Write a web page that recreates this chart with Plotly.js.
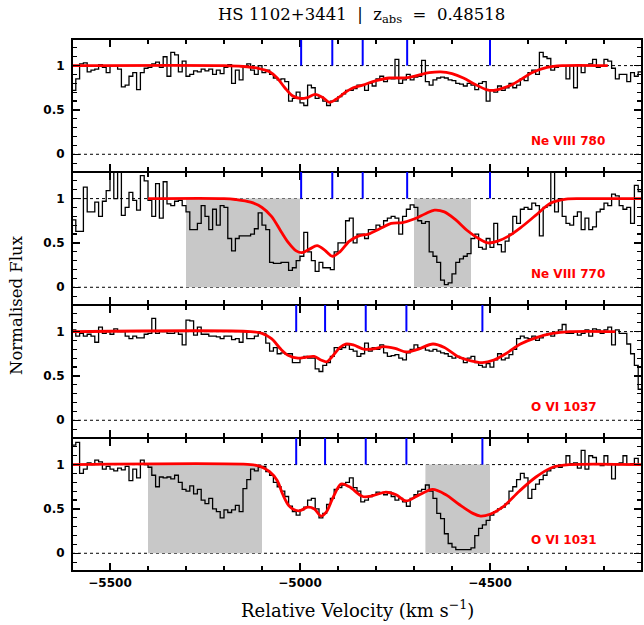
<!DOCTYPE html>
<html><head><meta charset="utf-8">
<script src="https://cdn.plot.ly/plotly-3.0.1.min.js"></script>
<style>html,body{margin:0;padding:0;background:#fff}#plot{width:644px;height:625px}</style>
</head><body><div id="plot"></div>
<script>
// velocity grid of the spectra (bin left edges, km/s)
const vStart = -5600, vStep = 10, vEnd = -4100;

const flux780 = [
0.72,0.85,1.02,1.03,0.93,0.95,0.96,1.01,0.98,0.92,
1.0,1.0,0.96,0.76,0.78,0.88,0.92,0.73,0.92,0.97,
0.98,1.02,1.04,0.98,1.1,0.88,1.15,1.12,0.93,1.05,
0.88,0.9,0.94,0.93,0.96,0.94,0.96,0.9,0.95,0.91,
0.98,1.01,0.8,0.95,0.84,0.98,1.02,0.95,0.9,1.0,
0.92,0.95,0.9,0.86,0.84,0.85,0.82,0.6,0.63,0.7,
0.58,0.55,0.78,0.75,0.63,0.65,0.6,0.55,0.6,0.6,
0.65,0.68,0.72,0.72,0.74,0.78,0.78,0.72,0.8,0.77,
0.85,0.88,0.82,0.86,0.85,1.07,0.8,0.84,0.9,0.84,
0.87,0.88,1.06,0.82,0.78,0.84,0.86,0.87,0.86,0.84,
0.83,0.8,0.79,0.77,0.8,0.78,0.73,0.8,0.82,0.6,
0.72,0.7,0.77,0.72,0.75,0.8,0.75,0.78,0.85,0.83,
0.92,0.95,0.9,1.15,1.1,1.08,0.95,0.98,1.0,1.0,
0.85,1.0,0.75,1.0,0.92,1.0,1.02,1.07,0.98,1.0,
1.07,1.05,0.97,0.85,0.9,0.9,0.82,0.92,0.88,0.93];

const flux770 = [
0.76,0.63,0.63,1.13,0.85,0.85,0.96,0.8,0.97,1.09,
1.35,1.0,1.35,0.81,0.9,1.07,0.98,0.87,1.26,1.2,
0.98,0.8,1.17,0.78,1.19,0.94,0.92,0.97,0.98,0.92,
0.85,0.65,0.65,0.72,0.92,0.8,0.65,0.88,0.7,0.92,
0.9,0.55,0.41,0.55,0.58,0.58,0.58,0.6,0.66,0.84,
0.7,0.65,0.28,0.27,0.27,0.28,0.28,0.19,0.22,0.3,
0.35,0.62,0.4,0.3,0.18,0.28,0.22,0.22,0.2,0.4,
0.5,0.5,0.75,0.78,0.5,0.6,0.6,0.55,0.65,0.65,
0.7,0.68,0.75,0.78,0.8,0.78,0.6,0.8,0.88,0.93,
0.9,0.75,0.72,0.74,0.4,0.35,0.28,0.08,0.03,0.05,
0.15,0.28,0.32,0.35,0.38,0.55,0.6,0.45,0.43,0.55,
0.45,0.72,0.48,0.4,0.52,0.6,0.8,0.72,0.88,0.9,
0.88,0.95,0.92,0.58,0.9,0.92,1.35,0.85,1.0,0.8,
0.72,0.7,0.8,0.85,0.65,0.78,0.65,0.68,0.85,0.88,
0.95,0.92,1.05,1.03,0.92,0.88,0.9,0.72,1.15,1.08];

const flux1037 = [
1.02,0.95,0.98,0.95,0.97,0.95,0.88,1.05,0.98,1.0,
0.97,1.03,1.0,1.0,0.95,0.92,0.95,0.93,0.93,0.97,
0.98,1.15,0.98,1.0,1.0,0.98,0.98,1.0,0.97,0.85,
1.13,1.12,0.96,1.05,0.97,0.97,0.95,0.95,0.94,0.92,
0.95,0.95,0.91,0.92,0.88,1.0,0.92,0.92,0.95,0.98,
0.98,0.87,0.78,0.82,0.75,0.76,0.75,0.75,0.65,0.65,
0.7,0.72,0.7,0.7,0.58,0.55,0.62,0.65,0.72,0.82,
0.8,0.82,0.85,0.8,0.78,0.72,0.75,0.87,0.78,0.82,
0.8,0.85,0.76,0.72,0.73,0.74,0.7,0.68,0.76,0.8,
0.85,0.82,0.82,0.79,0.78,0.8,0.78,0.76,0.75,0.72,
0.7,0.72,0.7,0.65,0.7,0.72,0.65,0.62,0.6,0.64,
0.6,0.68,0.75,0.68,0.7,0.74,0.8,0.92,0.95,0.93,
0.92,0.95,0.9,0.93,0.96,0.98,0.95,0.99,1.02,1.08,
0.98,0.98,1.0,0.96,0.98,1.02,0.95,1.03,1.02,0.98,
1.02,1.05,0.85,1.02,0.98,0.98,0.86,0.75,0.62,0.35];

const flux1031 = [
1.22,1.25,0.9,0.95,1.02,1.0,1.05,1.03,0.95,0.98,
0.95,0.93,0.96,0.94,0.98,0.82,0.95,0.85,1.05,1.0,
0.97,0.88,0.75,0.86,0.85,0.86,0.84,0.88,0.8,0.72,
0.7,0.76,0.67,0.72,0.6,0.56,0.62,0.5,0.47,0.4,
0.49,0.46,0.49,0.54,0.47,0.73,0.83,0.95,0.93,0.97,
0.98,0.92,0.88,0.8,0.75,0.7,0.64,0.53,0.47,0.43,
0.49,0.52,0.6,0.62,0.5,0.4,0.45,0.55,0.62,0.72,
0.74,0.77,0.8,0.85,0.74,0.7,0.58,0.6,0.64,0.66,
0.69,0.68,0.66,0.69,0.64,0.6,0.62,0.58,0.53,0.62,
0.66,0.7,0.72,0.77,0.7,0.62,0.45,0.39,0.22,0.11,
0.07,0.04,0.04,0.04,0.04,0.06,0.2,0.28,0.32,0.37,
0.43,0.47,0.5,0.52,0.56,0.7,0.75,0.83,0.9,0.85,
0.62,0.72,0.78,0.83,0.88,0.93,0.96,0.98,0.97,1.0,
1.1,1.01,1.02,0.96,1.16,0.95,1.1,1.08,1.01,0.99,
1.1,1.0,0.84,1.0,1.02,1.1,1.0,1.01,1.07,1.0];

// fitted model profiles (velocity, flux)
const model780V = [-5600,-5200,-5150,-5110,-5080,-5060,-5040,-5020,-5000,-4980,-4960,-4940,-4922,-4905,-4880,-4860,-4835,-4800,-4765,-4740,-4717,-4690,-4660,-4630,-4600,-4570,-4540,-4510,-4490,-4470,-4440,-4420,-4390,-4350,-4310,-4190];
const model780F = [1.0,1.0,0.99,0.97,0.93,0.86,0.75,0.66,0.63,0.64,0.675,0.64,0.585,0.62,0.70,0.75,0.78,0.83,0.86,0.86,0.865,0.89,0.92,0.93,0.91,0.86,0.79,0.73,0.72,0.74,0.79,0.84,0.92,0.98,1.0,1.0];
const model770V = [-5400,-5200,-5170,-5130,-5100,-5075,-5050,-5030,-5010,-4995,-4975,-4955,-4935,-4915,-4895,-4870,-4845,-4820,-4790,-4760,-4730,-4700,-4670,-4646,-4620,-4590,-4560,-4530,-4505,-4480,-4450,-4420,-4380,-4340,-4300,-4250,-4100];
const model770F = [1.0,1.0,0.99,0.96,0.9,0.8,0.63,0.5,0.41,0.39,0.43,0.47,0.42,0.35,0.4,0.52,0.58,0.6,0.66,0.72,0.73,0.77,0.83,0.87,0.85,0.76,0.64,0.55,0.5,0.52,0.58,0.67,0.81,0.95,0.995,1.0,1.0];
const model1037V = [-5600,-5130,-5100,-5075,-5050,-5030,-5005,-4985,-4963,-4945,-4930,-4915,-4895,-4880,-4860,-4830,-4800,-4780,-4750,-4720,-4690,-4650,-4620,-4585,-4550,-4520,-4490,-4455,-4420,-4380,-4335,-4290,-4170];
const model1037F = [1.0,1.0,0.98,0.92,0.8,0.73,0.7,0.71,0.72,0.68,0.66,0.72,0.82,0.86,0.85,0.8,0.81,0.83,0.81,0.77,0.8,0.86,0.82,0.72,0.67,0.65,0.68,0.76,0.86,0.93,0.98,1.0,1.0];
const model1031V = [-5600,-5130,-5105,-5080,-5060,-5045,-5030,-5015,-5000,-4980,-4962,-4945,-4930,-4914,-4892,-4870,-4835,-4808,-4774,-4747,-4721,-4690,-4651,-4616,-4581,-4545,-4525,-4500,-4467,-4423,-4379,-4335,-4290,-4100];
const model1031F = [1.0,1.0,0.98,0.92,0.82,0.66,0.54,0.49,0.48,0.52,0.5,0.42,0.47,0.62,0.78,0.75,0.64,0.65,0.69,0.66,0.59,0.65,0.72,0.66,0.55,0.45,0.42,0.44,0.52,0.7,0.86,0.97,1.0,1.0];

// component velocities (blue ticks)
const compNe = [-4997,-4915,-4835,-4718,-4500];
const compO  = [-5010,-4934,-4827,-4720,-4520];
// blended / masked regions (grey)
const mask770  = [[-5300,-5000],[-4700,-4550]];
const mask1031 = [[-5400,-5100],[-4670,-4500]];

const lineLabels = ['Ne VIII 780','Ne VIII 770','O VI 1037','O VI 1031'];

const panels = [
  {flux:flux780,  mv:model780V,  mf:model780F,  comps:compNe, masks:[]},
  {flux:flux770,  mv:model770V,  mf:model770F,  comps:compNe, masks:mask770},
  {flux:flux1037, mv:model1037V, mf:model1037F, comps:compO,  masks:[]},
  {flux:flux1031, mv:model1031V, mf:model1031F, comps:compO,  masks:mask1031}
];

const yTop = 1.3, yBot = -0.2;
const tickFont = {family:'DejaVu Sans', size:12, weight:'bold', color:'#000'};
const titleFamily = 'DejaVu Serif';
const traces = [], shapes = [], annotations = [];
const layout = {
  width:644, height:625,
  margin:{l:72, r:2, t:39, b:54},
  paper_bgcolor:'#fff', plot_bgcolor:'#fff', showlegend:false,
  title:{text:'HS 1102+3441  |  z<sub>abs</sub>  =  0.48518',
         font:{family:titleFamily, size:16.5, weight:500, color:'#000'},
         x:0.508, xref:'paper', xanchor:'center', y:1-14/625, yref:'container', yanchor:'middle'}
};

panels.forEach((p, i) => {
  const s = i === 0 ? '' : String(i + 1);
  const xa = 'x' + s, ya = 'y' + s;
  const xs = p.flux.map((_, k) => vStart + k * vStep);
  xs.push(vEnd);
  const ys = p.flux.slice(); ys.push(p.flux[p.flux.length - 1]);
  traces.push({x:xs, y:ys, xaxis:xa, yaxis:ya, type:'scatter', mode:'lines',
               line:{shape:'hv', color:'#000', width:1.3}, hoverinfo:'skip'});
  traces.push({x:p.mv, y:p.mf, xaxis:xa, yaxis:ya, type:'scatter', mode:'lines',
               line:{shape:'spline', smoothing:0.9, color:'#ff0000', width:2.8}, hoverinfo:'skip'});

  layout['xaxis' + s] = {
    anchor:ya, domain:[0,1], range:[vStart, vEnd],
    tick0:-5500, dtick:500, ticks:'inside', ticklen:8, tickwidth:1.5, tickcolor:'#000',
    showline:true, linewidth:1, linecolor:'#000', mirror:'ticks',
    showgrid:false, zeroline:false, showticklabels:i === 3, tickfont:tickFont,
    ticklabelstandoff:1,
    minor:{tick0:-5600, dtick:100, ticks:'inside', ticklen:5, tickwidth:1.2, tickcolor:'#000', showgrid:false}
  };
  layout['yaxis' + s] = {
    anchor:xa, domain:[(3 - i) * 0.25, (4 - i) * 0.25], range:[yBot, yTop],
    tick0:0, dtick:0.5, ticks:'inside', ticklen:8, tickwidth:1.5, tickcolor:'#000',
    showline:true, linewidth:1, linecolor:'#000', mirror:'ticks',
    showgrid:false, zeroline:false, tickfont:tickFont, ticklabelstandoff:4,
    minor:{tick0:0, dtick:0.1, ticks:'inside', ticklen:5, tickwidth:1.2, tickcolor:'#000', showgrid:false}
  };

  p.masks.forEach(m => shapes.push({type:'rect', xref:xa, yref:ya, x0:m[0], x1:m[1], y0:0, y1:1,
    fillcolor:'#c8c8c8', line:{width:0}, layer:'below'}));
  [0, 1].forEach(v => shapes.push({type:'line', xref:xa + ' domain', yref:ya, x0:0, x1:1, y0:v, y1:v,
    line:{color:'#000', width:1, dash:'dot'}, layer:'below'}));
  p.comps.forEach(c => shapes.push({type:'line', xref:xa, yref:ya, x0:c, x1:c, y0:1, y1:yTop,
    line:{color:'#0000ff', width:2}, layer:'above'}));

  annotations.push({xref:xa, yref:ya, x:-4397, y:0.15, xanchor:'left', yanchor:'middle',
    text:lineLabels[i], showarrow:false,
    font:{family:'DejaVu Sans', size:12, weight:'bold', color:'#ff0000'}});
});

// outer frame of the stacked panels
shapes.push({type:'rect', xref:'paper', yref:'paper', x0:0, x1:1, y0:0, y1:1,
  line:{color:'#000', width:2}, fillcolor:'rgba(0,0,0,0)', layer:'above'});

annotations.push({xref:'paper', yref:'paper', x:(16 - 72) / 570, y:0.5, xanchor:'center', yanchor:'middle',
  textangle:-90, text:'Normalised Flux', showarrow:false,
  font:{family:titleFamily, size:16.5, color:'#000'}});
annotations.push({xref:'paper', yref:'paper', x:0.5, y:-(609 - 571) / 532, xanchor:'center', yanchor:'middle',
  text:'Relative Velocity (km s<sup>\u22121</sup>)', showarrow:false,
  font:{family:titleFamily, size:18, color:'#000'}});

layout.shapes = shapes;
layout.annotations = annotations;

Plotly.newPlot('plot', traces, layout, {displayModeBar:false, staticPlot:true});
</script>
</body></html>
